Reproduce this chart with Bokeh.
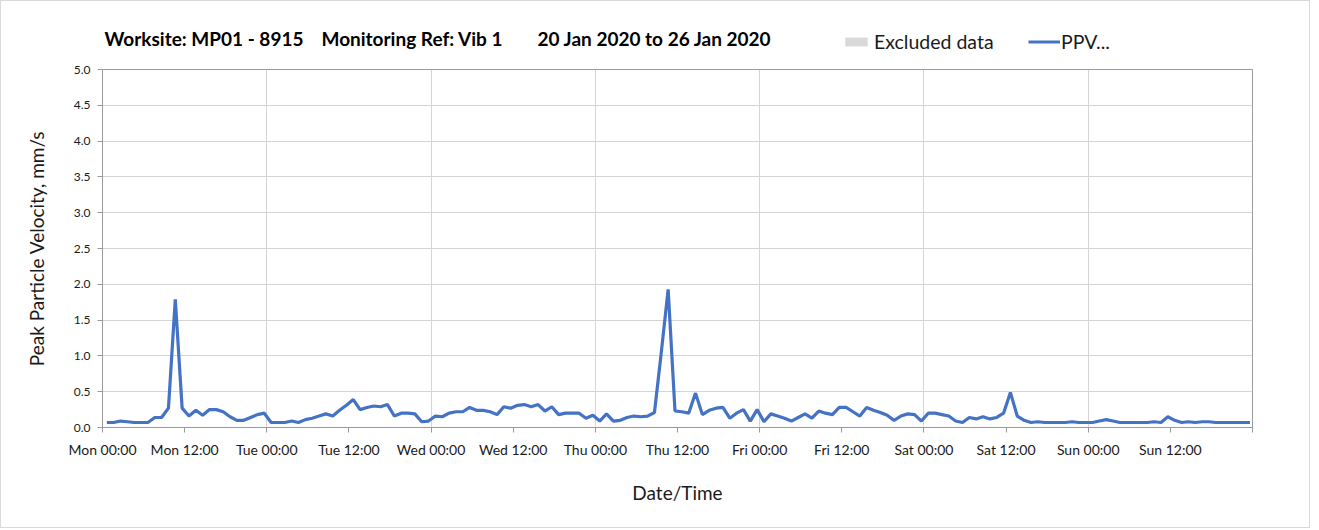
import numpy as np
from bokeh.plotting import figure
from bokeh.layouts import column
from bokeh.models import Range1d, FixedTicker, Legend, LegendItem, Label, PrintfTickFormatter
from bokeh.embed import file_html
from bokeh.resources import INLINE

# ---- data ----
title_parts = ["Worksite: MP01 - 8915", "Monitoring Ref: Vib 1", "20 Jan 2020 to 26 Jan 2020"]
tick_hours = list(range(0, 169, 12))
tick_labels = ["Mon 00:00", "Mon 12:00", "Tue 00:00", "Tue 12:00", "Wed 00:00", "Wed 12:00",
               "Thu 00:00", "Thu 12:00", "Fri 00:00", "Fri 12:00", "Sat 00:00", "Sat 12:00",
               "Sun 00:00", "Sun 12:00", ""]
y_ticks = [0.0, 0.5, 1.0, 1.5, 2.0, 2.5, 3.0, 3.5, 4.0, 4.5, 5.0]

ppv = [
    0.07, 0.07, 0.09, 0.08, 0.07, 0.07, 0.07, 0.14, 0.14, 0.27,
    1.79, 0.27, 0.16, 0.24, 0.17, 0.25, 0.25, 0.22, 0.15, 0.10,
    0.10, 0.14, 0.18, 0.20, 0.07, 0.07, 0.07, 0.09, 0.07, 0.11,
    0.13, 0.16, 0.19, 0.16, 0.24, 0.31, 0.39, 0.25, 0.28, 0.30,
    0.29, 0.32, 0.16, 0.20, 0.20, 0.19, 0.08, 0.09, 0.16, 0.15,
    0.20, 0.22, 0.22, 0.28, 0.24, 0.24, 0.22, 0.18, 0.29, 0.27,
    0.31, 0.32, 0.29, 0.32, 0.23, 0.29, 0.18, 0.20, 0.20, 0.20,
    0.13, 0.17, 0.09, 0.19, 0.09, 0.10, 0.14, 0.16, 0.15, 0.16,
    0.21, 1.05, 1.93, 0.23, 0.22, 0.20, 0.48, 0.18, 0.24, 0.27,
    0.28, 0.13, 0.20, 0.25, 0.09, 0.25, 0.08, 0.19, 0.16, 0.13,
    0.09, 0.14, 0.19, 0.13, 0.23, 0.20, 0.18, 0.28, 0.28, 0.22,
    0.16, 0.28, 0.24, 0.21, 0.17, 0.10, 0.16, 0.19, 0.18, 0.09,
    0.20, 0.20, 0.18, 0.16, 0.09, 0.07, 0.14, 0.12, 0.15, 0.12,
    0.14, 0.20, 0.49, 0.16, 0.10, 0.07, 0.08, 0.07, 0.07, 0.07,
    0.07, 0.08, 0.07, 0.07, 0.07, 0.09, 0.11, 0.09, 0.07, 0.07,
    0.07, 0.07, 0.07, 0.08, 0.07, 0.15, 0.10, 0.07, 0.08, 0.07,
    0.08, 0.08, 0.07, 0.07, 0.07, 0.07, 0.07, 0.07,
]
# hourly readings, first one at Mon 00:38 (hours since Mon 00:00)
first_reading_hour = 38 / 60
hours = [first_reading_hour + i for i in range(len(ppv))]

FONT = "Lato"
TXT = "#1a1a1a"
GRID = "#d4d4d4"
AXIS = "#9a9a9a"
LINE_COLOR = "#4472C4"
EXCL_COLOR = "#d9d9d9"
W = 1308
HEAD_H = 58

# ---- header strip: title + legend (its frame lines up with the chart frame) ----
head = figure(width=W, height=HEAD_H, output_backend="svg", toolbar_location=None,
              x_range=Range1d(0, 100), y_range=Range1d(0, 100),
              x_axis_type=None, y_axis_type=None, title=None,
              min_border_left=0, min_border_right=0, min_border_top=0, min_border_bottom=0)
head.outline_line_color = None
head.background_fill_color = "white"
head.border_fill_color = "white"

for txt, tx in zip(title_parts, [2, 219, 435]):
    head.add_layout(Label(x=tx, y=21, x_units="screen", y_units="screen", text=txt,
                          text_font=FONT, text_font_style="bold", text_font_size="19px",
                          text_color="black", text_baseline="middle"))

# legend proxies (kept outside the visible range, only their legend swatches show)
lg_box = head.quad(left=[-20], right=[-10], top=[-10], bottom=[-20],
                   fill_color=EXCL_COLOR, line_color=None)
lg_line = head.line(x=[-20, -10], y=[-20, -20], line_color=LINE_COLOR, line_width=3)

legend_common = dict(orientation="horizontal", label_height=20, padding=0, margin=0,
                     border_line_color=None, background_fill_alpha=0, label_text_font=FONT,
                     label_text_font_size="19.5px", label_text_color=TXT)
head.add_layout(Legend(items=[LegendItem(label="Excluded data", renderers=[lg_box])],
                       location=(740, 6), glyph_width=28, glyph_height=11, label_standoff=4,
                       **legend_common))
head.add_layout(Legend(items=[LegendItem(label="PPV...", renderers=[lg_line])],
                       location=(926, 6), glyph_width=32, glyph_height=11, label_standoff=1,
                       **legend_common))

# ---- main chart ----
p = figure(width=W, height=526 - HEAD_H, output_backend="svg", toolbar_location=None,
           x_range=Range1d(0, 168), y_range=Range1d(0, 5), title=None,
           min_border_left=101, min_border_right=57, min_border_top=10, min_border_bottom=100)
p.background_fill_color = "white"
p.border_fill_color = "white"
p.outline_line_color = AXIS
p.outline_line_width = 1

p.line(hours, ppv, line_color=LINE_COLOR, line_width=3.2)

p.xaxis.ticker = FixedTicker(ticks=tick_hours)
p.xaxis.major_label_overrides = {h: lab for h, lab in zip(tick_hours, tick_labels)}
p.yaxis.ticker = FixedTicker(ticks=y_ticks)
p.yaxis.formatter = PrintfTickFormatter(format="%.1f")
for ax in (p.xaxis[0], p.yaxis[0]):
    ax.axis_line_color = AXIS
    ax.major_tick_line_color = AXIS
    ax.minor_tick_line_color = None
    ax.major_tick_in = 0
    ax.major_tick_out = 5
    ax.major_label_text_font = FONT
    ax.major_label_text_color = TXT
    ax.axis_label_text_font = FONT
    ax.axis_label_text_font_style = "normal"
    ax.axis_label_text_color = TXT
    ax.axis_label_text_font_size = "19px"
p.xaxis.major_label_text_font_size = "14px"
p.yaxis.major_label_text_font_size = "12px"
p.xaxis.major_label_standoff = 8
p.yaxis.major_label_standoff = 7
p.xaxis.axis_label = "Date/Time"
p.yaxis.axis_label = "Peak Particle Velocity, mm/s"
p.xaxis.axis_label_standoff = 20
p.yaxis.axis_label_standoff = 23

p.xgrid.ticker = FixedTicker(ticks=[24, 48, 72, 96, 120, 144])
p.xgrid.grid_line_color = GRID
p.ygrid.grid_line_color = GRID

layout = column(head, p, spacing=0)
layout.styles = {"border": "1px solid #d9d9d9"}

open("out.html", "w").write(file_html(layout, INLINE))
